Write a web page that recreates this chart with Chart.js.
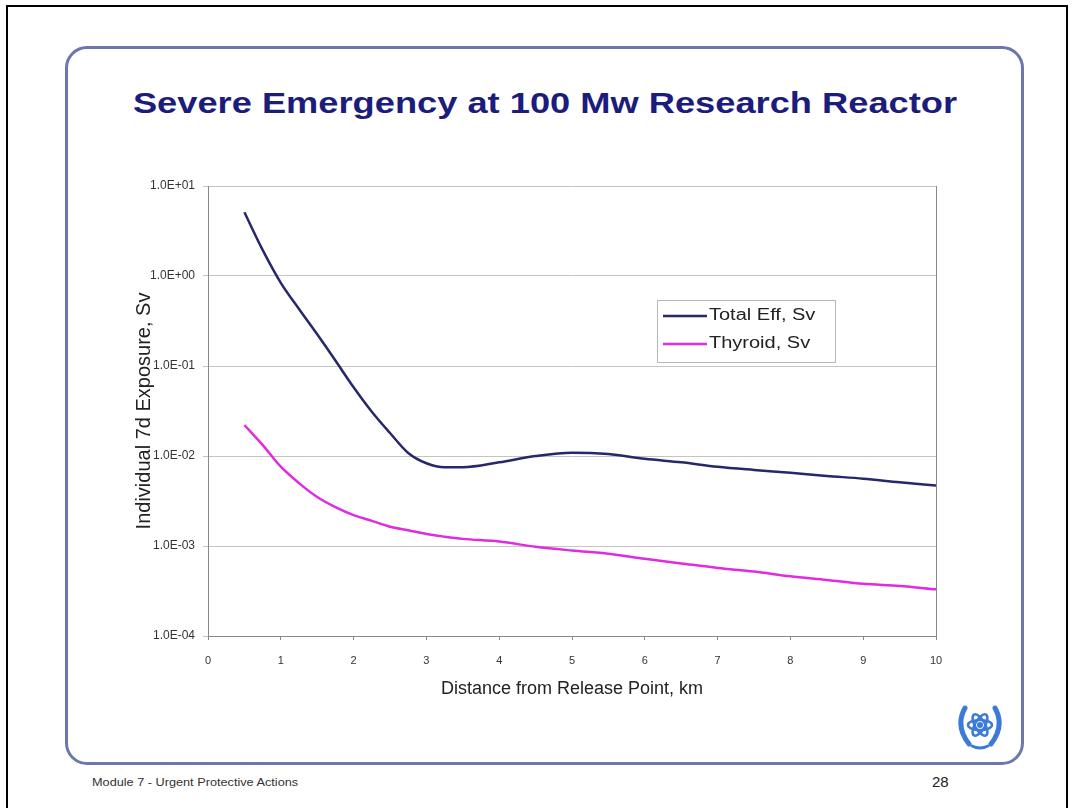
<!DOCTYPE html>
<html>
<head>
<meta charset="utf-8">
<script src="https://cdn.jsdelivr.net/npm/chart.js@4.4.1/dist/chart.umd.min.js"></script>
<style>
  html, body { margin: 0; padding: 0; background: #fff; }
  body { width: 1072px; height: 808px; position: relative; overflow: hidden; font-family: "Liberation Sans", Arial, sans-serif; }
  #page-border { position: absolute; left: 6px; top: 5px; width: 1062px; height: 820px; border: 2px solid #000; box-sizing: border-box; }
  #slide-frame { position: absolute; left: 65px; top: 46px; width: 959px; height: 719px; border: 3px solid #6c78ac; border-radius: 22px; box-sizing: border-box; }
  #slide-title { position: absolute; left: 66px; width: 958px; top: 87px; text-align: center; font-size: 29px; font-weight: bold; color: #1c1c7c; transform: scaleX(1.25); }
  #chart-wrap { position: absolute; left: 130px; top: 170px; width: 870px; height: 540px; }
  #footer-left { position: absolute; left: 92px; top: 777px; font-size: 10px; color: #333; transform: scaleX(1.27); transform-origin: left top; }
  #footer-right { position: absolute; left: 932px; top: 773px; font-size: 15px; color: #222; }
  #logo { position: absolute; left: 955px; top: 700px; }
</style>
</head>
<body>
<div id="page-border"></div>
<div id="slide-frame"></div>
<div id="slide-title">Severe Emergency at 100 Mw Research Reactor</div>
<div id="chart-wrap"><canvas id="dose-chart"></canvas></div>
<div id="footer-left">Module 7 - Urgent Protective Actions</div>
<div id="footer-right">28</div>
<svg id="logo" width="50" height="52" viewBox="0 0 50 52">
  <g fill="none" stroke="#3b7bd8" stroke-linecap="round">
    <path d="M10 8 Q0 26 14 44" stroke-width="5"/>
    <path d="M40 8 Q50 26 36 44" stroke-width="5"/>
    <path d="M17 46 Q25 50 33 46" stroke-width="3"/>
    <ellipse cx="25" cy="25" rx="12" ry="5" stroke-width="2.5"/>
    <ellipse cx="25" cy="25" rx="12" ry="5" stroke-width="2.5" transform="rotate(60 25 25)"/>
    <ellipse cx="25" cy="25" rx="12" ry="5" stroke-width="2.5" transform="rotate(-60 25 25)"/>
  </g>
  <circle cx="25" cy="25" r="3" fill="#3b7bd8"/>
</svg>

<script>
// distance from release point (km)
const distKm = [0.5, 0.75, 1, 1.25, 1.5, 1.75, 2, 2.25, 2.5, 2.75, 3, 3.25, 3.5, 4, 4.5, 5, 5.5, 6, 6.5, 7, 7.5, 8, 8.5, 9, 9.5, 10];

// 7 day individual exposure, Sv
const totalEff = [5.1, 1.95, 0.84, 0.43, 0.225, 0.115, 0.058, 0.031, 0.018, 0.0108, 0.0083, 0.0075, 0.0075, 0.0085, 0.0100, 0.0109, 0.0105, 0.0093, 0.0085, 0.0076, 0.0070, 0.0065, 0.0060, 0.0056, 0.0051, 0.0047];
const thyroid = [0.0221, 0.0133, 0.0076, 0.0050, 0.0035, 0.0027, 0.0022, 0.0019, 0.00164, 0.0015, 0.00136, 0.00127, 0.0012, 0.00112, 0.00098, 0.00089, 0.00082, 0.00072, 0.00064, 0.00057, 0.00052, 0.00046, 0.00042, 0.00038, 0.00036, 0.00033];

const seriesNames = ['Total Eff, Sv', 'Thyroid, Sv'];
const yTicks = [1e-4, 1e-3, 1e-2, 1e-1, 1, 10];
const yTickLabels = ['1.0E-04', '1.0E-03', '1.0E-02', '1.0E-01', '1.0E+00', '1.0E+01'];

// legend box drawn inside the plot, plus the right-hand frame of the plot area
const boxLegend = {
    id: 'boxLegend',
    afterDraw(chart, args, opts) {
        const ctx = chart.ctx;
        const area = chart.chartArea;
        ctx.save();
        ctx.strokeStyle = '#888';
        ctx.lineWidth = 1;
        ctx.beginPath();
        ctx.moveTo(area.right + 0.5, area.top);
        ctx.lineTo(area.right + 0.5, area.bottom);
        ctx.stroke();

        ctx.fillStyle = '#fff';
        ctx.fillRect(opts.x, opts.y, opts.w, opts.h);
        ctx.strokeStyle = '#b8b8b8';
        ctx.strokeRect(opts.x + 0.5, opts.y + 0.5, opts.w, opts.h);
        ctx.font = '16px "Liberation Sans", Arial, sans-serif';
        ctx.textBaseline = 'middle';
        chart.data.datasets.forEach((ds, i) => {
            let yy = opts.y + 16 + i * 28;
            ctx.strokeStyle = ds.borderColor;
            ctx.lineWidth = 2.5;
            ctx.beginPath();
            ctx.moveTo(opts.x + 6, yy);
            ctx.lineTo(opts.x + 50, yy);
            ctx.stroke();
            // text in the slide is a little wide, stretch it to suit
            ctx.save();
            ctx.translate(opts.x + 52, yy);
            ctx.scale(1.25, 1);
            ctx.fillStyle = '#222';
            ctx.fillText(ds.label, 0, 0);
            ctx.restore();
        });
        ctx.restore();
    }
};

let doseChart = new Chart(document.getElementById('dose-chart'), {
    type: 'line',
    data: {
        labels: distKm,
        datasets: [
            {
                label: seriesNames[0],
                data: distKm.map((d, i) => ({ x: d, y: totalEff[i] })),
                borderColor: '#27276c',
                borderWidth: 2.5,
                pointRadius: 0,
                cubicInterpolationMode: 'monotone'
            },
            {
                label: seriesNames[1],
                data: distKm.map((d, i) => ({ x: d, y: thyroid[i] })),
                borderColor: '#e02ce0',
                borderWidth: 2.5,
                pointRadius: 0,
                cubicInterpolationMode: 'monotone'
            }
        ]
    },
    options: {
        responsive: true,
        maintainAspectRatio: false,
        animation: false,
        layout: {
            padding: { top: 16, right: 64, bottom: 10, left: 0 }
        },
        scales: {
            x: {
                type: 'linear',
                min: 0,
                max: 10,
                ticks: {
                    stepSize: 1,
                    color: '#333',
                    padding: 14,
                    font: { size: 11, family: '"Liberation Sans", Arial' }
                },
                grid: { drawOnChartArea: false, tickLength: 4, color: '#888' },
                border: { color: '#888' },
                title: {
                    display: true,
                    text: 'Distance from Release Point, km',
                    color: '#222',
                    font: { size: 18, family: '"Liberation Sans", Arial' },
                    padding: { top: 8, bottom: 0 }
                },
                afterFit: function(scale) { scale.height = 64; }
            },
            y: {
                type: 'logarithmic',
                min: 1e-4,
                max: 10,
                afterBuildTicks: function(scale) {
                    scale.ticks = yTicks.map(v => ({ value: v }));
                },
                ticks: {
                    color: '#333',
                    padding: 8,
                    font: { size: 12, family: '"Liberation Sans", Arial' },
                    callback: function(value) {
                        let idx = yTicks.findIndex(t => Math.abs(Math.log10(t) - Math.log10(value)) < 1e-6);
                        return idx >= 0 ? yTickLabels[idx] : '';
                    }
                },
                grid: { color: '#c4c4c4', tickLength: 5 },
                border: { color: '#888' },
                title: {
                    display: true,
                    text: 'Individual 7d Exposure, Sv',
                    color: '#222',
                    font: { size: 20, family: '"Liberation Sans", Arial' },
                    padding: 2
                },
                afterFit: function(scale) { scale.width = 78; }
            }
        },
        plugins: {
            legend: { display: false },
            tooltip: { enabled: false },
            boxLegend: { x: 527, y: 130, w: 178, h: 62 }
        }
    },
    plugins: [boxLegend]
});
</script>
</body>
</html>
